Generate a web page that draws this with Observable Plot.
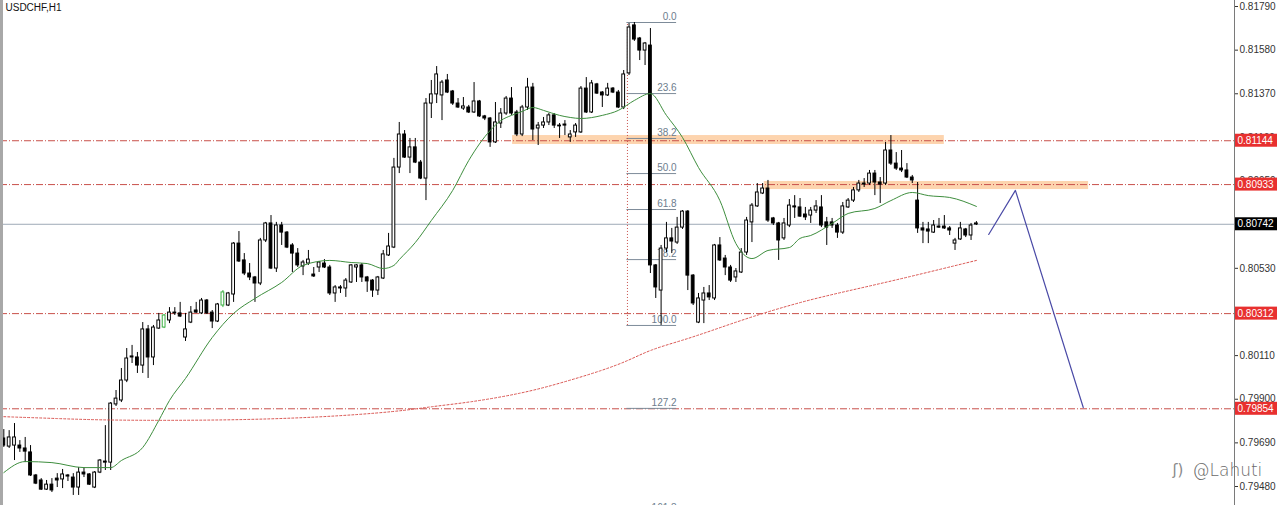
<!DOCTYPE html>
<html><head><meta charset="utf-8">
<script src="https://cdn.jsdelivr.net/npm/d3@7"></script>
<script src="https://cdn.jsdelivr.net/npm/@observablehq/plot@0.6"></script>
<style>
html,body{margin:0;padding:0;background:#fff;overflow:hidden}
#chart{width:1280px;height:505px}
</style>
</head><body><div id="chart"></div>
<script>
// ---- data ----
const symbolTitle = "USDCHF,H1";
const open = [0.79711,0.79672,0.79677,0.79677,0.79663,0.79644,0.79533,0.79509,0.79465,0.79489,
0.79518,0.79514,0.79533,0.79523,0.79475,0.79547,0.79538,0.79475,0.79547,0.79600,
0.79595,0.79875,0.79894,0.79990,0.80101,0.80101,0.80062,0.80236,0.80101,0.80240,
0.80245,0.80279,0.80317,0.80313,0.80197,0.80269,0.80327,0.80313,0.80375,0.80317,
0.80274,0.80351,0.80351,0.80404,0.80649,0.80568,0.80505,0.80486,0.80457,0.80664,
0.80746,0.80529,0.80736,0.80702,0.80640,0.80601,0.80539,0.80553,0.80500,0.80534,
0.80553,0.80534,0.80409,0.80438,0.80433,0.80462,0.80534,0.80544,0.80486,0.80471,
0.80423,0.80481,0.80592,0.80630,0.81015,0.81174,0.81063,0.81112,0.81039,0.80962,
0.81323,0.81367,0.81362,0.81434,0.81381,0.81323,0.81299,0.81304,0.81280,0.81333,
0.81261,0.81251,0.81136,0.81227,0.81275,0.81347,0.81280,0.81174,0.81304,0.81400,
0.81203,0.81217,0.81232,0.81266,0.81217,0.81222,0.81160,0.81184,0.81184,0.81395,
0.81280,0.81415,0.81376,0.81362,0.81395,0.81376,0.81304,0.81468,0.81699,0.81636,
0.81578,0.81602,0.80544,0.80423,0.80625,0.80674,0.80654,0.80726,0.80803,0.80495,
0.80269,0.80375,0.80409,0.80385,0.80640,0.80577,0.80534,0.80486,0.80510,0.80606,
0.80751,0.80828,0.80890,0.80914,0.80770,0.80746,0.80674,0.80736,0.80828,0.80823,
0.80789,0.80784,0.80808,0.80823,0.80751,0.80751,0.80736,0.80702,0.80823,0.80856,
0.80905,0.80938,0.80938,0.80986,0.80943,0.80938,0.81097,0.81034,0.81010,0.81001,
0.80967,0.80856,0.80722,0.80717,0.80702,0.80731,0.80731,0.80722,0.80649,0.80669,
0.80717,0.80688,0.80741];
const high = [0.79754,0.79749,0.79783,0.79701,0.79716,0.79677,0.79538,0.79518,0.79509,0.79518,
0.79542,0.79562,0.79538,0.79542,0.79571,0.79571,0.79542,0.79552,0.79610,0.79773,
0.79884,0.79942,0.80048,0.80144,0.80159,0.80125,0.80269,0.80255,0.80255,0.80313,
0.80308,0.80341,0.80341,0.80366,0.80313,0.80346,0.80366,0.80385,0.80380,0.80327,
0.80361,0.80423,0.80414,0.80654,0.80707,0.80601,0.80553,0.80491,0.80674,0.80751,
0.80784,0.80751,0.80751,0.80707,0.80649,0.80625,0.80568,0.80616,0.80534,0.80563,
0.80572,0.80544,0.80447,0.80447,0.80481,0.80548,0.80548,0.80553,0.80491,0.80476,
0.80491,0.80616,0.80698,0.81059,0.81232,0.81193,0.81155,0.81155,0.81049,0.81347,
0.81434,0.81501,0.81434,0.81463,0.81386,0.81347,0.81352,0.81314,0.81424,0.81338,
0.81266,0.81256,0.81328,0.81299,0.81357,0.81400,0.81290,0.81314,0.81444,0.81420,
0.81232,0.81256,0.81275,0.81275,0.81227,0.81241,0.81193,0.81227,0.81405,0.81448,
0.81434,0.81420,0.81381,0.81420,0.81400,0.81386,0.81482,0.81708,0.81713,0.81641,
0.81617,0.81684,0.80548,0.80640,0.80751,0.80722,0.80775,0.80808,0.80808,0.80500,
0.80409,0.80438,0.80447,0.80645,0.80678,0.80592,0.80544,0.80529,0.80625,0.80775,
0.80842,0.80938,0.80938,0.80953,0.80775,0.80751,0.80770,0.80861,0.80880,0.80866,
0.80823,0.80823,0.80856,0.80880,0.80775,0.80770,0.80746,0.80847,0.80866,0.80919,
0.80953,0.80962,0.81001,0.81001,0.80967,0.81136,0.81169,0.81087,0.81097,0.81034,
0.80977,0.80943,0.80751,0.80751,0.80760,0.80770,0.80784,0.80731,0.80674,0.80751,
0.80722,0.80746,0.80755];
const low = [0.79668,0.79663,0.79605,0.79644,0.79595,0.79528,0.79489,0.79461,0.79461,0.79451,
0.79475,0.79470,0.79504,0.79437,0.79437,0.79523,0.79485,0.79470,0.79542,0.79557,
0.79557,0.79865,0.79884,0.79980,0.80072,0.80024,0.80024,0.80000,0.80062,0.80236,
0.80240,0.80264,0.80303,0.80293,0.80178,0.80264,0.80313,0.80308,0.80308,0.80240,
0.80269,0.80341,0.80346,0.80366,0.80558,0.80495,0.80471,0.80366,0.80447,0.80654,
0.80524,0.80510,0.80640,0.80625,0.80510,0.80534,0.80495,0.80544,0.80486,0.80510,
0.80529,0.80399,0.80366,0.80409,0.80390,0.80457,0.80462,0.80462,0.80414,0.80390,
0.80399,0.80476,0.80587,0.80625,0.80986,0.81059,0.80986,0.81034,0.80957,0.80856,
0.81251,0.81323,0.81241,0.81371,0.81314,0.81299,0.81290,0.81275,0.81275,0.81256,
0.81241,0.81112,0.81131,0.81203,0.81266,0.81266,0.81164,0.81164,0.81290,0.81145,
0.81121,0.81203,0.81217,0.81203,0.81155,0.81169,0.81136,0.81160,0.81179,0.81275,
0.81275,0.81367,0.81304,0.81357,0.81371,0.81299,0.81294,0.81458,0.81622,0.81530,
0.81506,0.80505,0.80385,0.80255,0.80606,0.80601,0.80645,0.80717,0.80423,0.80351,
0.80264,0.80264,0.80375,0.80375,0.80563,0.80495,0.80462,0.80462,0.80505,0.80592,
0.80654,0.80823,0.80885,0.80751,0.80736,0.80568,0.80664,0.80726,0.80770,0.80775,
0.80760,0.80746,0.80794,0.80726,0.80640,0.80722,0.80674,0.80693,0.80818,0.80847,
0.80895,0.80919,0.80929,0.80880,0.80842,0.80929,0.81025,0.81001,0.80991,0.80962,
0.80938,0.80698,0.80649,0.80649,0.80698,0.80722,0.80717,0.80688,0.80616,0.80664,
0.80678,0.80664,0.80736];
const close = [0.79677,0.79716,0.79716,0.79663,0.79648,0.79533,0.79494,0.79465,0.79489,0.79461,
0.79509,0.79538,0.79528,0.79475,0.79547,0.79538,0.79489,0.79547,0.79605,0.79595,
0.79879,0.79903,0.79990,0.80096,0.80106,0.80062,0.80236,0.80101,0.80245,0.80279,
0.80303,0.80317,0.80313,0.80298,0.80236,0.80317,0.80317,0.80375,0.80313,0.80274,
0.80356,0.80414,0.80409,0.80649,0.80563,0.80505,0.80486,0.80457,0.80664,0.80746,
0.80529,0.80736,0.80702,0.80630,0.80601,0.80544,0.80558,0.80572,0.80491,0.80558,
0.80534,0.80409,0.80438,0.80433,0.80471,0.80544,0.80544,0.80486,0.80467,0.80423,
0.80486,0.80597,0.80635,0.81015,0.81174,0.81063,0.81112,0.81039,0.80962,0.81323,
0.81367,0.81463,0.81424,0.81376,0.81323,0.81304,0.81309,0.81280,0.81333,0.81261,
0.81251,0.81136,0.81232,0.81275,0.81347,0.81275,0.81174,0.81304,0.81400,0.81198,
0.81217,0.81232,0.81266,0.81217,0.81213,0.81217,0.81174,0.81217,0.81395,0.81280,
0.81420,0.81371,0.81362,0.81395,0.81376,0.81304,0.81463,0.81689,0.81631,0.81578,
0.81612,0.80544,0.80438,0.80625,0.80674,0.80659,0.80726,0.80803,0.80495,0.80361,
0.80385,0.80409,0.80390,0.80640,0.80568,0.80534,0.80471,0.80515,0.80606,0.80760,
0.80832,0.80895,0.80914,0.80760,0.80746,0.80664,0.80746,0.80832,0.80823,0.80779,
0.80775,0.80808,0.80828,0.80736,0.80726,0.80736,0.80702,0.80828,0.80856,0.80905,
0.80938,0.80933,0.80986,0.80943,0.80933,0.81097,0.81034,0.81010,0.81001,0.80967,
0.80953,0.80722,0.80712,0.80707,0.80736,0.80726,0.80722,0.80712,0.80664,0.80722,
0.80688,0.80736,0.80746];
const greenBars = [30, 41];

// moving averages (at bar positions)
const maFastIdx = [0,4,9,15,20,22,26,29,31,34,39,43,47,52,56,61,65,68,71,73,74,77,80,84,87,91,93,95,97,99,101,104,106,108,112,115,118,121,124,127,130,134,137,140,143,147,149,151,155,158,163,166,170,173,177,182];
const maFastVal = [0.79547,0.79600,0.79595,0.79571,0.79571,0.79605,0.79668,0.79798,0.79894,0.80000,0.80197,0.80313,0.80385,0.80462,0.80544,0.80568,0.80558,0.80553,0.80529,0.80544,0.80572,0.80654,0.80760,0.80905,0.81049,0.81193,0.81241,0.81266,0.81285,0.81304,0.81290,0.81266,0.81256,0.81251,0.81266,0.81290,0.81338,0.81371,0.81266,0.81160,0.81015,0.80856,0.80649,0.80577,0.80616,0.80630,0.80674,0.80688,0.80746,0.80794,0.80818,0.80856,0.80895,0.80880,0.80871,0.80828];
const maSlowIdx = [0,10,20,41,59,74,80,87,97,104,112,117,121,127,132,140,150,160,169,182];
const maSlowVal = [0.79816,0.79807,0.79798,0.79798,0.79812,0.79841,0.79865,0.79884,0.79928,0.79976,0.80038,0.80087,0.80139,0.80183,0.80226,0.80298,0.80375,0.80433,0.80486,0.80568];

// horizontal levels
const levelPrices = [0.81144, 0.80933, 0.80312, 0.79854];
const bidPrice = 0.80742;
// highlighted zones
const zoneFrom = [95.2, 142.3];
const zoneTo = [176.0, 203.0];
const zoneTop = [0.81169, 0.80948];
const zoneBottom = [0.81126, 0.80909];
// fibonacci
const fibLabels = ["0.0","23.6","38.2","50.0","61.8","78.2","100.0","127.2","161.8"];
const fibPrices = [0.81713,0.81371,0.81155,0.80986,0.80813,0.80572,0.80255,0.79856,0.79350];
const fibFrom = 116.6, fibTo = 125.9;
// projected path
const projIdx = [184.3, 189.3, 202.0];
const projVal = [0.80693, 0.80905, 0.79860];
// price axis ticks (those fully covered by price tags in the picture are left out)
const yTicks = [0.81790,0.81580,0.81370,0.81160,0.80950,0.80530,0.80110,0.79900,0.79690,0.79480];
const watermark = "@Lahuti";

// ---- build ----
const candles = open.map((o, i) => ({i, o, h: high[i], l: low[i], c: close[i],
  up: close[i] >= open[i], green: greenBars.includes(i)}));
const fast = maFastIdx.map((i, k) => ({i, v: maFastVal[k]}));
const slow = maSlowIdx.map((i, k) => ({i, v: maSlowVal[k]}));
const zones = zoneFrom.map((x1, k) => ({x1, x2: zoneTo[k], y1: zoneBottom[k], y2: zoneTop[k]}));
const fibs = fibPrices.map((p, k) => ({p, t: fibLabels[k]}));
const proj = projIdx.map((i, k) => ({i, v: projVal[k]}));
const tags = [
  {p: levelPrices[0], bg: "#e8302f"},
  {p: levelPrices[1], bg: "#e8302f"},
  {p: bidPrice, bg: "#000000"},
  {p: levelPrices[2], bg: "#e8302f"},
  {p: levelPrices[3], bg: "#e8302f"}
];

const red = "#c8504a";
const tagMark = (index, scales, values, dims) => {
  const g = d3.create("svg:g").attr("text-anchor", "start");
  const x0 = dims.width - dims.marginRight;
  for (const t of tags) {
    const y = scales.y(t.p);
    g.append("rect").attr("x", x0 + 1).attr("y", y - 6.5).attr("width", 42).attr("height", 13).attr("fill", t.bg);
    g.append("text").attr("x", x0 + 3.5).attr("y", y).attr("dy", "0.36em").attr("text-anchor", "start")
      .attr("fill", "#fff").attr("font-size", 10).text(t.p.toFixed(5));
  }
  return g.node();
};

const chart = Plot.plot({
  width: 1280, height: 505,
  marginLeft: 0, marginRight: 46, marginTop: 0, marginBottom: 0,
  style: {fontFamily: "'Liberation Sans', Arial, sans-serif", fontSize: "10px", background: "#fff", color: "#333"},
  x: {type: "linear", domain: [-0.62, 230.3], axis: null},
  y: {domain: [0.793886, 0.818189], axis: "right", ticks: yTicks, tickFormat: d => d.toFixed(5), tickSize: 3, tickPadding: 2, label: null},
  marks: [
    Plot.rect(zones, {x1: "x1", x2: "x2", y1: "y1", y2: "y2", fill: "#fdd4ae"}),
    Plot.ruleY(levelPrices, {stroke: red, strokeDasharray: "7,2,1,2", strokeWidth: 1}),
    Plot.ruleY([bidPrice], {stroke: "#9eaab6", strokeWidth: 1}),
    Plot.ruleY(fibs, {y: "p", x1: fibFrom, x2: fibTo, stroke: "#7d8b99", strokeWidth: 1}),
    Plot.text(fibs, {y: "p", x: fibTo, text: "t", textAnchor: "end", dy: -6, fill: "#6d7d8d", fontSize: 10}),
    Plot.ruleX([fibFrom + 0.1], {y1: fibPrices[6], y2: fibPrices[0], stroke: red, strokeDasharray: "1,2"}),
    Plot.ruleX(candles, {x: "i", y1: "l", y2: "h", stroke: d => d.green ? "#3cb043" : "#000", strokeWidth: 1}),
    Plot.rect(candles, {x1: d => d.i - 0.26, x2: d => d.i + 0.26,
      y1: d => Math.min(d.o, d.c), y2: d => Math.max(d.o, d.c),
      fill: d => d.up ? "#fff" : "#000", stroke: d => d.green ? "#3cb043" : "#000", strokeWidth: 1}),
    Plot.line(slow, {x: "i", y: "v", stroke: "#d9534f", strokeDasharray: "2,2", strokeWidth: 1, curve: "basis"}),
    Plot.line(fast, {x: "i", y: "v", stroke: "#3e8e3e", strokeWidth: 1, curve: "monotone-x"}),
    Plot.line(proj, {x: "i", y: "v", stroke: "#4a4aa6", strokeWidth: 1.2}),
    Plot.text([symbolTitle], {frameAnchor: "top-left", dx: 5, dy: 3, fontSize: 10, fill: "#111", textAnchor: "start"}),
    Plot.text(["ʃ)"], {frameAnchor: "bottom-right", dx: -62, dy: -35, lineAnchor: "middle", textAnchor: "start",
      fontSize: 15, fill: "#8a8a8a", fontFamily: "DejaVu Sans"}),
    Plot.text([watermark], {frameAnchor: "bottom-right", dx: -42, dy: -35, lineAnchor: "middle", textAnchor: "start",
      fontSize: 17, fill: "#6a6a6a", fontWeight: 200, fontFamily: "DejaVu Sans"}),
    Plot.frame({anchor: "right", stroke: "#7a7a7a"}),
    Plot.frame({anchor: "left", stroke: "#a8a8a8", strokeWidth: 5}),
    tagMark
  ]
});
document.getElementById("chart").appendChild(chart);
</script>
</body></html>
